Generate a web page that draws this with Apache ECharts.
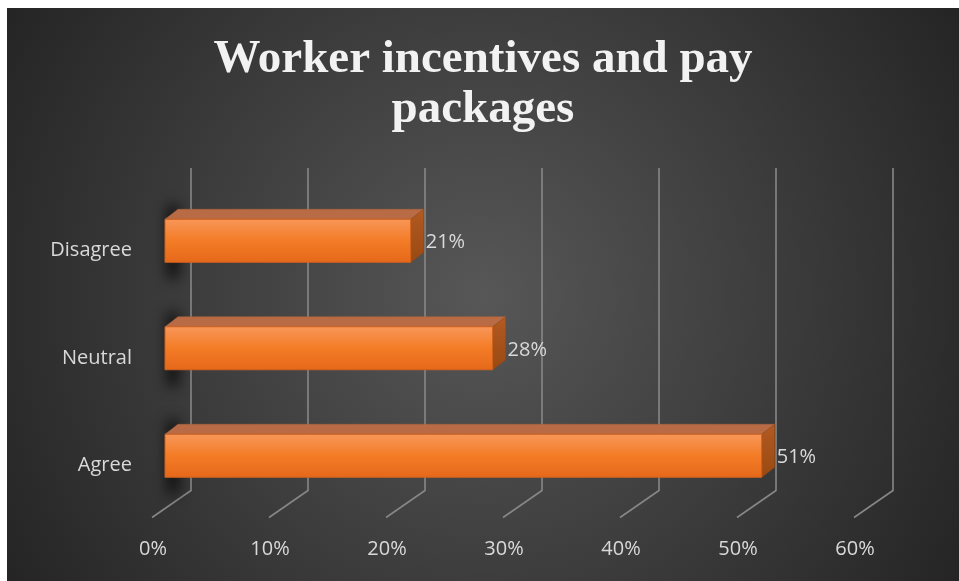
<!DOCTYPE html>
<html>
<head>
<meta charset="utf-8">
<style>
  html, body { margin: 0; padding: 0; background: #ffffff; }
  #chart { position: absolute; left: 7px; top: 8px; width: 952px; height: 573px; }
</style>
<script src="https://cdn.jsdelivr.net/npm/echarts@6/dist/echarts.min.js"></script>
</head>
<body>
<div id="chart"></div>
<script>
// Survey responses on worker incentives and pay packages
const categories = ['Agree', 'Neutral', 'Disagree'];
const shares = [0.51, 0.28, 0.21];
const tickValues = [0, 0.1, 0.2, 0.3, 0.4, 0.5, 0.6];
const tickLabels = ['0%', '10%', '20%', '30%', '40%', '50%', '60%'];

// 3D extrusion of the bars (back face offset)
const DEPTH_X = 13;
const DEPTH_Y = -10;

const chart = echarts.init(document.getElementById('chart'));

function renderBar(params, api) {
  const v = api.value(0);
  const cat = api.value(1);
  const start = api.coord([0, cat]);
  const end = api.coord([v, cat]);
  const h = api.size([0, 1])[1] * 0.4;
  const x0 = start[0], x1 = end[0];
  const yTop = start[1] - h / 2, yBot = start[1] + h / 2;
  const label = Math.round(v * 100) + '%';
  return {
    type: 'group',
    children: [
      // soft shadow behind the bar's left end
      {
        type: 'rect',
        shape: { x: x0 + 3 - 2000, y: yTop - 14, width: 10, height: h + 30 },
        style: { fill: '#000', shadowBlur: 14, shadowColor: 'rgba(0,0,0,0.9)', shadowOffsetX: 2000 },
        z2: 0
      },
      // top face
      {
        type: 'polygon',
        shape: { points: [[x0, yTop], [x0 + DEPTH_X, yTop + DEPTH_Y], [x1 + DEPTH_X, yTop + DEPTH_Y], [x1, yTop]] },
        style: { fill: '#b86b44', stroke: '#b0653e', lineWidth: 0.5 },
        z2: 2
      },
      // side face
      {
        type: 'polygon',
        shape: { points: [[x1, yTop], [x1 + DEPTH_X, yTop + DEPTH_Y], [x1 + DEPTH_X, yBot + DEPTH_Y], [x1, yBot]] },
        style: {
          fill: new echarts.graphic.LinearGradient(0, 0, 0, 1, [
            { offset: 0, color: '#b25a22' },
            { offset: 1, color: '#9a4912' }
          ]),
          stroke: '#9a4912', lineWidth: 0.5
        },
        z2: 2
      },
      // front face
      {
        type: 'rect',
        shape: { x: x0, y: yTop, width: x1 - x0, height: yBot - yTop },
        style: {
          fill: new echarts.graphic.LinearGradient(0, 0, 0, 1, [
            { offset: 0, color: '#f7975a' },
            { offset: 0.5, color: '#f47c26' },
            { offset: 1, color: '#e5681a' }
          ]),
          stroke: '#d1621c', lineWidth: 1
        },
        z2: 3
      },
      // value label
      {
        type: 'text',
        style: {
          x: x1 + DEPTH_X + 2, y: start[1] + 2,
          text: label,
          fill: '#d9d9d9',
          font: '20px "Open Sans"',
          align: 'left', verticalAlign: 'middle'
        },
        z2: 4
      }
    ]
  };
}

function renderGridline(params, api) {
  const cs = params.coordSys;
  const x = api.coord([api.value(0), 0])[0];
  const top = cs.y - 19;
  const knee = cs.y + cs.height - 19;
  const foot = cs.y + cs.height + 8;
  return {
    type: 'polyline',
    shape: { points: [[x + 26, top], [x + 26, knee], [x - 13, foot]] },
    style: { stroke: '#878787', lineWidth: 1.6, fill: null }
  };
}

chart.setOption({
  backgroundColor: new echarts.graphic.RadialGradient(0.5, 0.5, 1.0, [
    { offset: 0, color: '#575757' },
    { offset: 1, color: '#232323' }
  ]),
  title: {
    text: 'Worker incentives and pay\npackages',
    left: 'center',
    top: 22,
    textStyle: {
      fontFamily: '"Liberation Serif", serif',
      fontWeight: 'bold',
      fontSize: 47,
      lineHeight: 50,
      color: '#f2f2f2'
    }
  },
  grid: { left: 158, top: 179, width: 702, height: 322.5 },
  xAxis: {
    type: 'value',
    min: 0,
    max: 0.6,
    interval: 0.1,
    axisLine: { show: false },
    axisTick: { show: false },
    splitLine: { show: false },
    axisLabel: {
      margin: 30,
      padding: [0, 24, 0, 0],
      color: '#d9d9d9',
      fontFamily: '"Open Sans"',
      fontSize: 20,
      formatter: function (v) {
        const i = tickValues.findIndex(t => Math.abs(t - v) < 1e-9);
        return i >= 0 ? tickLabels[i] : '';
      }
    }
  },
  yAxis: {
    type: 'category',
    data: categories,
    axisLine: { show: false },
    axisTick: { show: false },
    axisLabel: {
      margin: 33,
      verticalAlign: 'top',
      lineHeight: 20,
      color: '#d9d9d9',
      fontFamily: '"Open Sans"',
      fontSize: 20
    }
  },
  series: [
    {
      type: 'custom',
      name: 'gridlines',
      renderItem: renderGridline,
      data: tickValues.map(v => [v, 0]),
      encode: { x: 0, y: 1 },
      silent: true,
      z: 1
    },
    {
      type: 'custom',
      name: 'Share',
      renderItem: renderBar,
      data: shares.map((v, i) => [v, i]),
      encode: { x: 0, y: 1 },
      z: 5
    }
  ]
});
</script>
</body>
</html>
